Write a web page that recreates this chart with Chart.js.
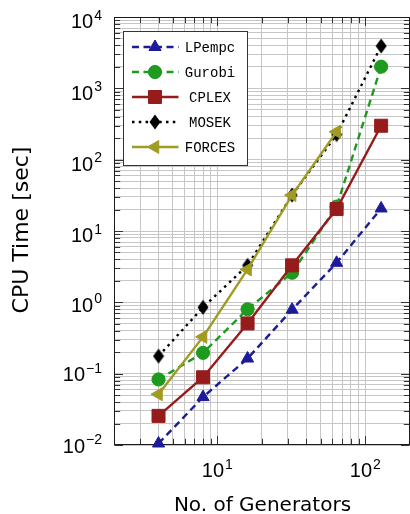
<!DOCTYPE html>
<html><head><meta charset="utf-8">
<script src="https://cdn.jsdelivr.net/npm/chart.js@4.4.1/dist/chart.umd.min.js"></script>
<style>
html,body{margin:0;padding:0;overflow:hidden;background:#fff;width:410px;height:514px}
#wrap{width:420px;height:514px}
</style></head><body><div id="wrap"><canvas id="c" width="420" height="514"></canvas></div>
<script>
// ---- data ----
const generators = [4, 8, 16, 32, 64, 128];
const lpempc = [0.0105, 0.047, 0.163, 0.79, 3.58, 20.7];
const gurobi = [0.083, 0.196, 0.80, 2.6, 22, 2010];
const cplex  = [0.0256, 0.089, 0.506, 3.3, 20.3, 299];
const mosek  = [0.176, 0.85, 3.3, 31.9, 225, 3920];
const forces = [0.0515, 0.328, 2.89, 31.9, 246];
const seriesNames = ['LPempc', 'Gurobi', 'CPLEX', 'MOSEK', 'FORCES'];
const xMajorTicks = [10, 100];
const yMajorTicks = [0.01, 0.1, 1, 10, 100, 1000, 10000];
const xAxisTitle = 'No. of Generators';
const yAxisTitle = 'CPU Time [sec]';

// ---- styles ----
const BLUE = '#1c1c98', GREEN = '#1e9a1e', RED = '#961c1c', OLIVE = '#a09c22', BLACK = '#000';
const X_MIN = 2, X_MAX = 200, Y_MIN = 0.01, Y_MAX = 10000;
const LW = 2.4;

function logGridValues(min, max) {
  const out = [];
  for (let e = Math.floor(Math.log10(min)); e <= Math.ceil(Math.log10(max)); e++) {
    for (let m = 1; m <= 9; m++) {
      const v = +(m * Math.pow(10, e)).toPrecision(6);
      if (v >= min - 1e-12 && v <= max + 1e-9) out.push(v);
    }
  }
  return out;
}

const diamondImg = document.createElement('canvas');
diamondImg.width = 12; diamondImg.height = 16;
(function(){ const c = diamondImg.getContext('2d'); c.fillStyle = BLACK; c.beginPath();
  c.moveTo(6, 0.5); c.lineTo(11.5, 8); c.lineTo(6, 15.5); c.lineTo(0.5, 8); c.closePath(); c.fill(); })();

function pts(arr) { return arr.map((v, i) => ({x: generators[i], y: v})); }

const styles = [
  {color: BLUE,  dash: [7, 4.5], marker: 'triangle'},
  {color: GREEN, dash: [7, 4.5], marker: 'circle'},
  {color: RED,   dash: [],       marker: 'rect'},
  {color: BLACK, dash: [2.5, 4.3], marker: 'diamond'},
  {color: OLIVE, dash: [],       marker: 'triangleLeft'}
];

function ds(i, arr) {
  const s = styles[i];
  const o = {
    label: seriesNames[i], data: pts(arr), borderColor: s.color, backgroundColor: s.color,
    borderWidth: LW, borderDash: s.dash, borderCapStyle: 'butt', tension: 0, clip: false,
    pointBackgroundColor: s.color, pointBorderColor: s.color, pointBorderWidth: 1,
    order: 5 - i
  };
  if (s.marker === 'triangle') { o.pointStyle = 'triangle'; o.pointRadius = 7; }
  if (s.marker === 'circle') { o.pointStyle = 'circle'; o.pointRadius = 6.6; }
  if (s.marker === 'rect') { o.pointStyle = 'rect'; o.pointRadius = 9.2; }
  if (s.marker === 'diamond') { o.pointStyle = diamondImg; o.pointRadius = 7; }
  if (s.marker === 'triangleLeft') { o.pointStyle = 'triangle'; o.pointRotation = -90; o.pointRadius = 7.5; }
  return o;
}

function drawMarker(ctx, kind, x, y, color) {
  ctx.save(); ctx.setLineDash([]); ctx.fillStyle = color; ctx.strokeStyle = color; ctx.lineWidth = 1;
  if (kind === 'diamond') { ctx.drawImage(diamondImg, x - 6, y - 8); ctx.restore(); return; }
  ctx.beginPath();
  if (kind === 'triangle') { const r = 7; ctx.moveTo(x, y - r); ctx.lineTo(x + r * 0.866, y + r / 2); ctx.lineTo(x - r * 0.866, y + r / 2); ctx.closePath(); }
  else if (kind === 'triangleLeft') { const r = 7.5; ctx.moveTo(x - r, y); ctx.lineTo(x + r / 2, y - r * 0.866); ctx.lineTo(x + r / 2, y + r * 0.866); ctx.closePath(); }
  else if (kind === 'circle') { ctx.arc(x, y, 6.6, 0, Math.PI * 2); }
  else if (kind === 'rect') { const h = 6.5; ctx.rect(x - h, y - h, 2 * h, 2 * h); }
  ctx.fill(); ctx.stroke(); ctx.restore();
}

function supLabel(ctx, exp, x, baseline, align) {
  const baseFont = '20px "Liberation Sans"', expFont = '14px "Liberation Sans"';
  const expText = exp < 0 ? '\u2212' + Math.abs(exp) : String(exp);
  ctx.font = baseFont; const wb = ctx.measureText('10').width;
  ctx.font = expFont; const we = ctx.measureText(expText).width;
  const total = wb + 1 + we;
  let start = align === 'right' ? x - total : x - total / 2;
  ctx.fillStyle = '#000'; ctx.textBaseline = 'alphabetic'; ctx.textAlign = 'left';
  ctx.font = baseFont; ctx.fillText('10', start, baseline);
  ctx.font = expFont; ctx.fillText(expText, start + wb + 1, baseline - 8.5);
}

const decorPlugin = {
  id: 'decor',
  beforeDatasetsDraw(chart) {
    const ctx = chart.ctx, a = chart.chartArea, xs = chart.scales.x, ys = chart.scales.y;
    ctx.save();
    ctx.strokeStyle = '#333'; ctx.lineWidth = 1; ctx.setLineDash([]);
    const L = Math.round(a.left) + 0.5, R = Math.round(a.right) - 0.5, T = Math.round(a.top) + 0.5, B = Math.round(a.bottom) - 0.5;
    ctx.beginPath();
    logGridValues(X_MIN, X_MAX).forEach(v => {
      const p = Math.round(xs.getPixelForValue(v)) + 0.5;
      const len = xMajorTicks.includes(v) ? 8.5 : 5.7;
      ctx.moveTo(p, B); ctx.lineTo(p, B - len); ctx.moveTo(p, T); ctx.lineTo(p, T + len);
    });
    logGridValues(Y_MIN, Y_MAX).forEach(v => {
      const p = Math.round(ys.getPixelForValue(v)) + 0.5;
      const len = yMajorTicks.includes(v) ? 8.5 : 5.7;
      ctx.moveTo(L, p); ctx.lineTo(L + len, p); ctx.moveTo(R, p); ctx.lineTo(R - len, p);
    });
    ctx.stroke();
    ctx.strokeStyle = '#1a1a1a';
    ctx.strokeRect(L, T, R - L, B - T);
    ctx.restore();
  },
  afterDatasetsDraw(chart) {
    const ctx = chart.ctx;
    ctx.save();
    const bx = 123.5, by = 31.5, bw = 124, bh = 134;
    ctx.fillStyle = '#fff'; ctx.fillRect(bx, by, bw, bh);
    ctx.strokeStyle = '#333'; ctx.lineWidth = 1; ctx.setLineDash([]); ctx.strokeRect(bx, by, bw, bh);
    seriesNames.forEach((name, i) => {
      const s = styles[i], y = 47 + i * 25;
      ctx.save(); ctx.strokeStyle = s.color; ctx.lineWidth = LW; ctx.setLineDash(s.dash); ctx.lineCap = 'butt';
      ctx.beginPath(); ctx.moveTo(132, y); ctx.lineTo(178.5, y); ctx.stroke(); ctx.restore();
      drawMarker(ctx, s.marker, 155, y, s.color);
      ctx.fillStyle = '#000'; ctx.font = '14px "Liberation Mono"'; ctx.textAlign = 'center'; ctx.textBaseline = 'middle';
      ctx.fillText(name, 210, y + 1);
    });
    ctx.restore();
  },
  afterDraw(chart) {
    const ctx = chart.ctx, xs = chart.scales.x, ys = chart.scales.y, a = chart.chartArea;
    ctx.save();
    yMajorTicks.forEach(v => {
      const e = Math.round(Math.log10(v));
      const p = ys.getPixelForValue(v);
      const off = e > 0 ? 4 : (e === 0 ? 2 : 0.5);
      supLabel(ctx, e, a.left - 12, p + 7.3 + off, 'right');
    });
    xMajorTicks.forEach(v => {
      const e = Math.round(Math.log10(v));
      supLabel(ctx, e, xs.getPixelForValue(v), 477, 'center');
    });
    ctx.fillStyle = '#000';
    ctx.font = '20px "DejaVu Sans"'; ctx.textAlign = 'center'; ctx.textBaseline = 'alphabetic';
    ctx.fillText(xAxisTitle, 262.5, 511);
    ctx.save(); ctx.translate(28, 230); ctx.rotate(-Math.PI / 2);
    ctx.font = '22px "DejaVu Sans"'; ctx.fillText(yAxisTitle, 0, 0); ctx.restore();
    ctx.restore();
  }
};

const gridX = logGridValues(X_MIN, X_MAX), gridY = logGridValues(Y_MIN, Y_MAX);

new Chart(document.getElementById('c'), {
  type: 'line',
  data: { datasets: [ds(0, lpempc), ds(1, gurobi), ds(2, cplex), ds(3, mosek), ds(4, forces)] },
  options: {
    responsive: false, animation: false, events: [],
    layout: { padding: { left: 114, top: 17, right: 9, bottom: 69 } },
    plugins: { legend: { display: false }, tooltip: { enabled: false } },
    scales: {
      x: { type: 'logarithmic', min: X_MIN, max: X_MAX,
           afterBuildTicks: s => { s.ticks = gridX.map(v => ({value: v})); },
           ticks: { display: false }, border: { display: false },
           grid: { color: '#c6c6c6', lineWidth: 1, drawTicks: false } },
      y: { type: 'logarithmic', min: Y_MIN, max: Y_MAX,
           afterBuildTicks: s => { s.ticks = gridY.map(v => ({value: v})); },
           ticks: { display: false }, border: { display: false },
           grid: { color: '#c6c6c6', lineWidth: 1, drawTicks: false } }
    }
  },
  plugins: [decorPlugin]
});
</script></body></html>
